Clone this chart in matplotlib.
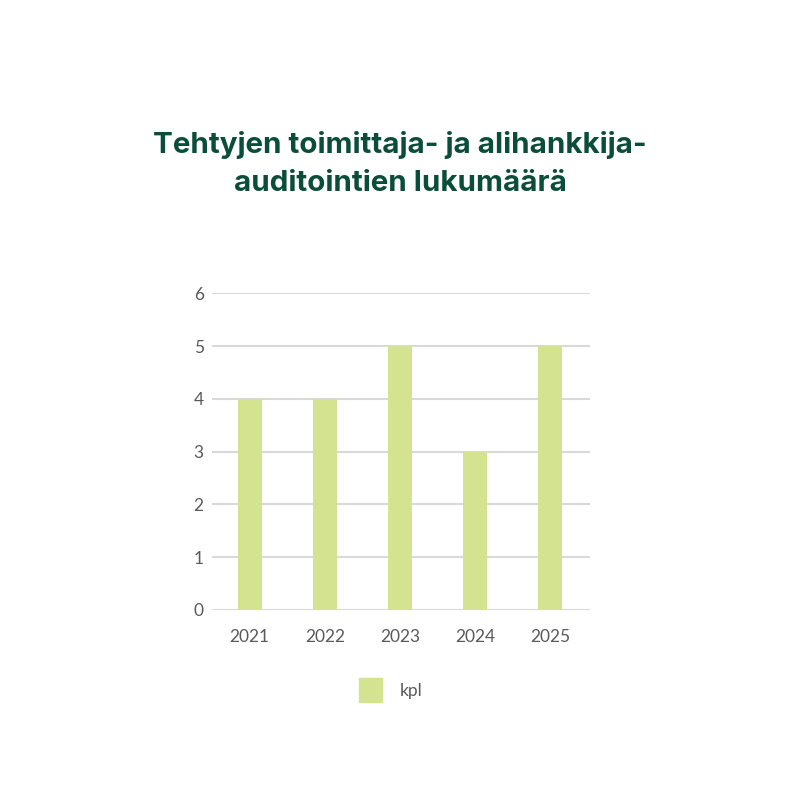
import matplotlib.pyplot as plt
import numpy as np
from matplotlib.patches import Patch

# data
years = ["2021", "2022", "2023", "2024", "2025"]
kpl = [4, 4, 5, 3, 5]
yticks = [0, 1, 2, 3, 4, 5, 6]

bar_color = "#d3e38f"
title_color = "#0b4d3b"
text_color = "#5a5a5a"

plt.rcParams["font.family"] = ["Lato", "DejaVu Sans"]

fig = plt.figure(figsize=(8, 8), dpi=100)
ax = fig.add_axes([0.265, 0.2375, 0.4725, 0.396])

x = np.arange(len(years))
ax.bar(x, kpl, width=0.32, color=bar_color, zorder=3)

ax.set_ylim(0, 6)
ax.set_xlim(-0.5, 4.53)
ax.set_yticks(yticks)
ax.set_xticks(x)
ax.set_xticklabels(years)
ax.grid(axis="y", color="#d9d9d9", linewidth=1.5, zorder=0)
for s in ax.spines.values():
    s.set_visible(False)
ax.tick_params(length=0, labelsize=12.5, labelcolor=text_color)
ax.tick_params(axis="y", pad=6)
ax.tick_params(axis="x", pad=14)

fig.text(0.5, 0.795, "Tehtyjen toimittaja- ja alihankkija-\nauditointien lukumäärä",
         ha="center", va="center", fontsize=21.3, fontweight="bold",
         family=["Inter", "DejaVu Sans"],
         color=title_color, linespacing=1.55)

fig.legend(handles=[Patch(color=bar_color, label="kpl")], loc="center",
           bbox_to_anchor=(0.488, 0.137), frameon=False, fontsize=12.5,
           handlelength=1.35, handleheight=1.75, handletextpad=1.0,
           labelcolor=text_color)

fig.savefig("out.png", dpi=100)
